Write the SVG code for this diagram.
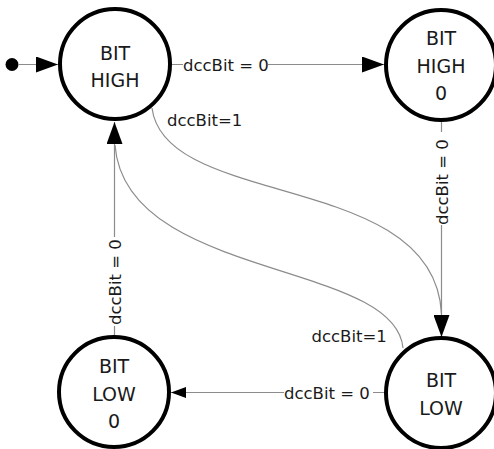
<svg xmlns="http://www.w3.org/2000/svg" width="494" height="449" viewBox="0 0 494 449">
  <style>
    .state { fill: #ffffff; stroke: #000000; stroke-width: 4; }
    .ntext { font-family: "DejaVu Sans", Verdana, sans-serif; font-size: 19px; fill: #1a1a1a; text-anchor: middle; }
    .edge { fill: none; stroke: #8c8c8c; stroke-width: 1.2; }
    .elabel { font-family: "DejaVu Sans", Verdana, sans-serif; font-size: 16.5px; fill: #1a1a1a; }
    .head { fill: #000000; }
  </style>
  <defs>
    <marker id="arrowL" markerUnits="userSpaceOnUse" viewBox="0 0 22 16" markerWidth="22" markerHeight="16" refX="22" refY="8" orient="auto">
      <path d="M0,0 L22,8 L0,16 z" class="head"/>
    </marker>
    <marker id="arrowS" markerUnits="userSpaceOnUse" viewBox="0 0 15 11" markerWidth="15" markerHeight="11" refX="15" refY="5.5" orient="auto">
      <path d="M0,0 L15,5.5 L0,11 z" class="head"/>
    </marker>
  </defs>

  <g id="connectors">
    <g id="init-edge">
      <circle cx="12" cy="64.5" r="6.5" fill="#000000"/>
      <path class="edge" d="M18,64.5 H58" marker-end="url(#arrowL)"/>
    </g>
    <g id="e-high-high0">
      <path class="edge" d="M172,64.5 H183 M268,64.5 H384" marker-end="url(#arrowL)"/>
      <text class="elabel" x="183" y="70.5">dccBit = 0</text>
    </g>
    <g id="e-high-low">
      <path class="edge" d="M152,108 C165,210 435,170 441.5,314"/>
      <text class="elabel" x="167" y="126">dccBit=1</text>
    </g>
    <g id="e-high0-low">
      <path class="edge" d="M441.5,120 V132 M441.5,225 V337" marker-end="url(#arrowL)"/>
      <text class="elabel" transform="translate(447.5,225) rotate(-90)">dccBit = 0</text>
    </g>
    <g id="e-low-high">
      <path class="edge" d="M403,348 C395,260 125,280 115,145"/>
      <text class="elabel" x="311.5" y="342">dccBit=1</text>
    </g>
    <g id="e-low-low0">
      <path class="edge" d="M385,392.5 H373 M284,392.5 H171" marker-end="url(#arrowS)"/>
      <text class="elabel" x="284" y="398.5">dccBit = 0</text>
    </g>
    <g id="e-low0-high">
      <path class="edge" d="M114.5,337 V326 M114.5,237 V122" marker-end="url(#arrowL)"/>
      <text class="elabel" transform="translate(120.5,325) rotate(-90)">dccBit = 0</text>
    </g>
  </g>

  <g id="node-bit-high">
    <circle class="state" cx="115" cy="64" r="55"/>
    <text class="ntext" x="115" y="60">BIT</text>
    <text class="ntext" x="115" y="87">HIGH</text>
  </g>
  <g id="node-bit-high-0">
    <circle class="state" cx="441" cy="65" r="55"/>
    <text class="ntext" x="441" y="45">BIT</text>
    <text class="ntext" x="441" y="73">HIGH</text>
    <text class="ntext" x="441" y="100">0</text>
  </g>
  <g id="node-bit-low-0">
    <circle class="state" cx="114" cy="392" r="55"/>
    <text class="ntext" x="114" y="373">BIT</text>
    <text class="ntext" x="114" y="401">LOW</text>
    <text class="ntext" x="114" y="428">0</text>
  </g>
  <g id="node-bit-low">
    <circle class="state" cx="441" cy="393" r="55"/>
    <text class="ntext" x="441" y="387">BIT</text>
    <text class="ntext" x="441" y="415">LOW</text>
  </g>
</svg>
